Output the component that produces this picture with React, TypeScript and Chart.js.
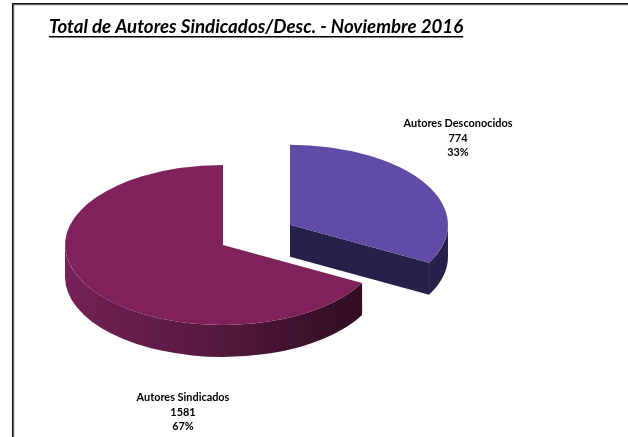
import React, { useEffect, useRef } from "react";
import { Chart, registerables } from "chart.js";

Chart.register(...registerables);

const categories = ["Autores Desconocidos", "Autores Sindicados"];
const values = [774, 1581];
const percents = ["33%", "67%"];
const titleText = "Total de Autores Sindicados/Desc. - Noviembre 2016";

const topColors = ["#604CA6", "#7F225C"];
const radius = 158;
const squash = 0.506;
const depth = 32;
const explode = [78, 0];
const labelAnchors = [
  { x: 458, y: 123 },
  { x: 183, y: 397 },
];

const pie3d = {
  id: "pie3d",
  beforeDraw(chart: any) {
    const { ctx, width, height } = chart;
    ctx.save();
    ctx.fillStyle = "#fff";
    ctx.fillRect(0, 0, width, height);
    ctx.fillStyle = "#BBB";
    ctx.fillRect(12, 3, width - 12, 2.5);
    ctx.fillRect(12, 3, 2.5, height - 3);
    ctx.fillStyle = "#111";
    ctx.fillRect(12, 3, width - 12, 1.5);
    ctx.fillRect(12, 3, 1.5, height - 3);
    ctx.restore();
  },
  beforeDatasetDraw(chart: any, args: any) {
    const { ctx } = chart;
    const arcs = chart.getDatasetMeta(args.index).data;
    arcs.forEach((arc: any, i: number) => {
      const mid = (arc.startAngle + arc.endAngle) / 2;
      const cx = arc.x + Math.cos(mid) * explode[i];
      const cy = arc.y + Math.sin(mid) * explode[i] * squash;
      const rx = arc.outerRadius;
      const ry = rx * squash;
      const a0 = Math.max(arc.startAngle, 0);
      const a1 = Math.min(arc.endAngle, Math.PI);
      ctx.save();
      // outer wall
      const wall = ctx.createLinearGradient(cx - rx, 0, cx + rx, 0);
      if (i === 1) {
        wall.addColorStop(0, "#752155");
        wall.addColorStop(0.45, "#571A41");
        wall.addColorStop(0.8, "#3A1029");
        wall.addColorStop(1, "#2C0B1E");
      } else {
        wall.addColorStop(0, "#26214A");
        wall.addColorStop(1, "#26214A");
      }
      ctx.fillStyle = wall;
      ctx.beginPath();
      ctx.ellipse(cx, cy, rx, ry, 0, a0, a1, false);
      ctx.ellipse(cx, cy + depth, rx, ry, 0, a1, a0, true);
      ctx.closePath();
      ctx.fill();
      // front cut face of the exploded slice
      if (i === 0) {
        ctx.fillStyle = "#26214A";
        const ex = cx + Math.cos(arc.endAngle) * rx;
        const ey = cy + Math.sin(arc.endAngle) * ry;
        ctx.beginPath();
        ctx.moveTo(cx, cy);
        ctx.lineTo(ex, ey);
        ctx.lineTo(ex, ey + depth);
        ctx.lineTo(cx, cy + depth);
        ctx.closePath();
        ctx.fill();
      }
      // top face: the library's arc, squashed into an ellipse
      ctx.translate(cx, cy);
      ctx.scale(1, squash);
      ctx.translate(-arc.x, -arc.y);
      arc.draw(ctx);
      ctx.restore();
    });
    return false;
  },
  afterDraw(chart: any) {
    const { ctx } = chart;
    ctx.save();
    ctx.fillStyle = "#000";
    ctx.textBaseline = "middle";
    ctx.textAlign = "left";
    ctx.font = "italic bold 18.7px Lato";
    ctx.fillText(titleText, 49, 27);
    const w = ctx.measureText(titleText).width;
    ctx.fillRect(49, 36, w, 1.5);
    ctx.textAlign = "center";
    ctx.font = "bold 10.9px Lato";
    categories.forEach((c, i) => {
      const a = labelAnchors[i];
      ctx.fillText(c, a.x, a.y);
      ctx.fillText(String(values[i]), a.x, a.y + 15);
      ctx.fillText(percents[i], a.x, a.y + 29);
    });
    ctx.restore();
  },
};

export default function App() {
  const ref = useRef<HTMLCanvasElement>(null);
  useEffect(() => {
    const chart = new Chart(ref.current!, {
      type: "pie",
      data: {
        labels: categories,
        datasets: [{ data: values, backgroundColor: topColors, borderWidth: 0 }],
      },
      options: {
        animation: false,
        responsive: false,
        radius,
        layout: { padding: { left: 0, right: 182, top: 53, bottom: 0 } },
        plugins: { legend: { display: false }, tooltip: { enabled: false } },
      } as any,
      plugins: [pie3d],
    });
    return () => chart.destroy();
  }, []);
  return (
    <canvas
      ref={ref}
      width={628}
      height={437}
      style={{ position: "fixed", left: 0, top: 0 }}
    />
  );
}
